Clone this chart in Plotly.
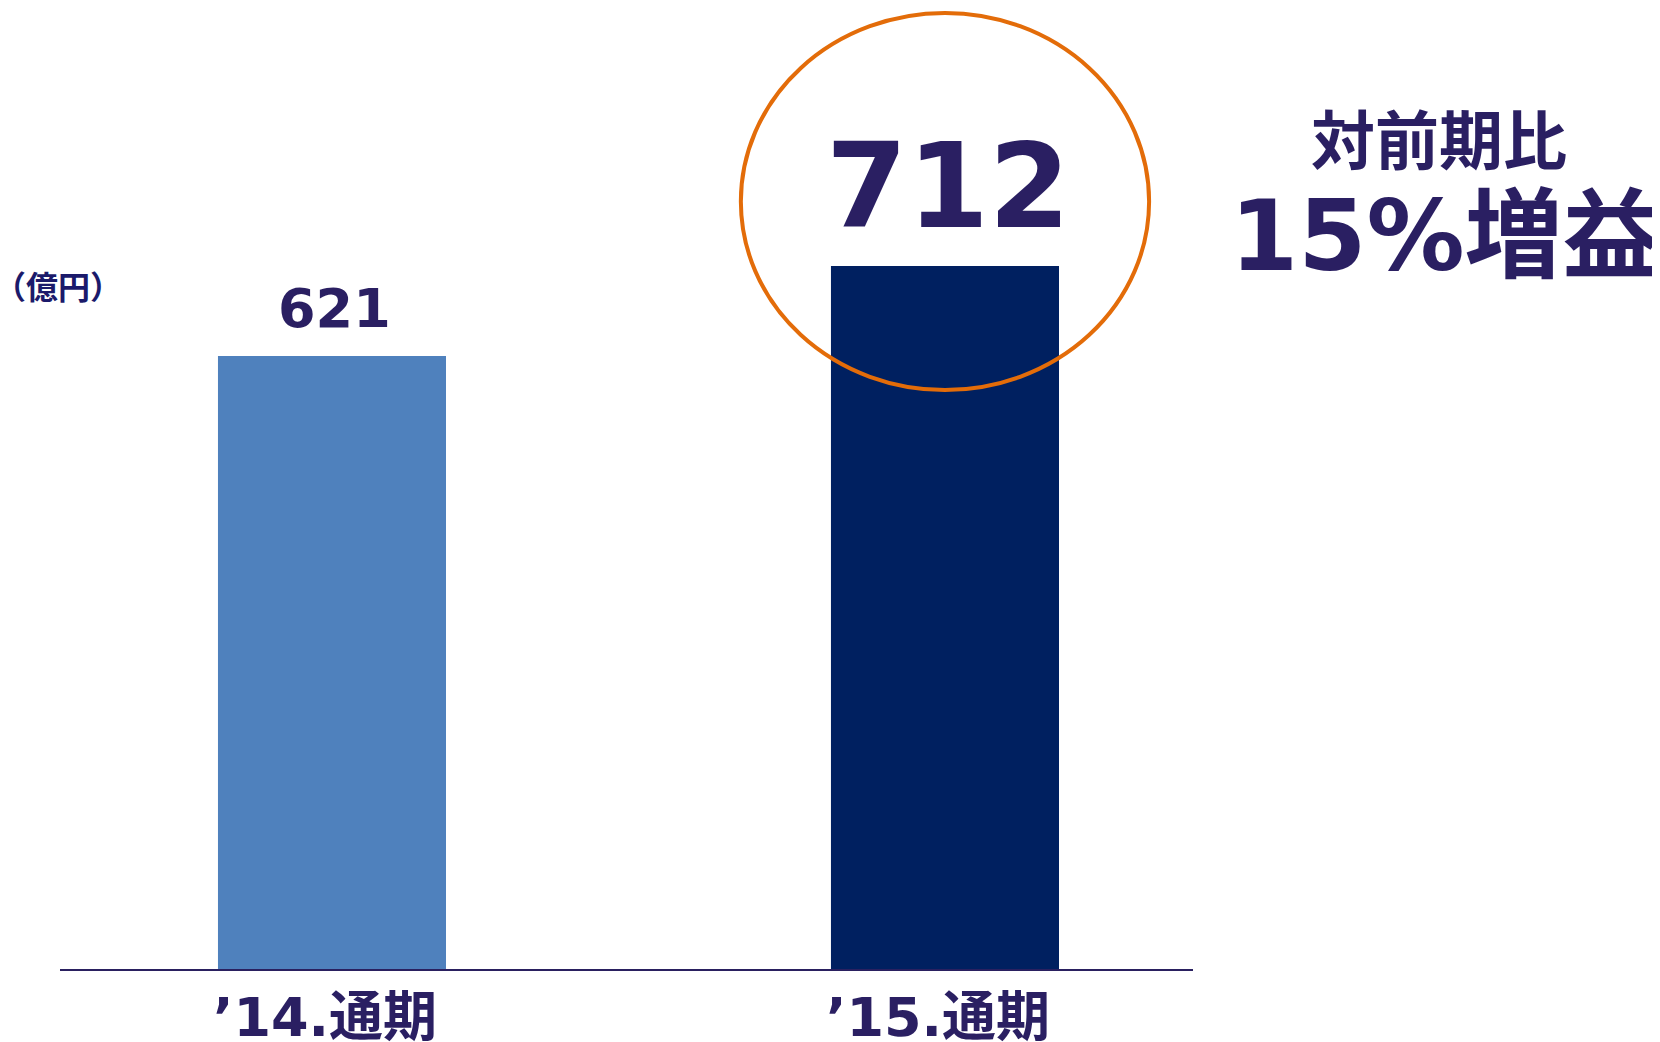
import plotly.graph_objects as go

categories = ["’14.通期", "’15.通期"]
values = [621, 712]
bar_colors = ["#4F81BD", "#002060"]
value_labels = ["621", "712"]
label_sizes = [54, 117]
label_shifts = [14, 9]
label_xshifts = [3, 3]

TEXT = "#2A1F62"
FONT = "DejaVu Sans, Noto Sans CJK JP, sans-serif"

# the page body has an 8px margin; figure is laid out to compensate
OFF = 8
FIG_W, FIG_H = 1660 - OFF, 1042 - OFF
L = 60 - OFF
AXIS_Y = 969 - OFF
PLOT_W = 1133
R = FIG_W - L - PLOT_W
B = FIG_H - AXIS_Y
Y_MAX = AXIS_Y / 0.9872

fig = go.Figure()
fig.add_trace(go.Bar(
    x=categories, y=values, marker=dict(color=bar_colors, line=dict(width=0)),
    width=0.372, hoverinfo="skip", showlegend=False,
))

for c, v, t, s, sh, xs in zip(categories, values, value_labels, label_sizes,
                              label_shifts, label_xshifts):
    fig.add_annotation(x=c, y=v, text=f"<b>{t}</b>", showarrow=False,
                       yanchor="bottom", yshift=sh, xshift=xs,
                       font=dict(family=FONT, size=s, color=TEXT))

fig.add_shape(type="circle", xref="x", yref="y",
              x0=0.667, x1=1.333, y0=586.5, y1=968.4,
              line=dict(color="#E36C09", width=4), layer="above")

def px_to_paper(px, py):
    # px, py are page pixel positions
    return (px - OFF - L) / PLOT_W, (AXIS_Y - (py - OFF)) / AXIS_Y

side_texts = [
    ("<b>（億円）</b>", "Noto Sans CJK JP", 32, "#1B1A6B", (58, 285)),
    ("<b>対前期比</b>", "Noto Sans CJK JP", 64, TEXT, (1439, 136)),
    ("<b>15%増益</b>", FONT, 98, TEXT, (1445, 236)),
]
for txt, fam, size, col, (px, py) in side_texts:
    ax, ay = px_to_paper(px, py)
    fig.add_annotation(xref="paper", yref="paper", x=ax, y=ay, text=txt,
                       xanchor="center", yanchor="middle", showarrow=False,
                       font=dict(family=fam, size=size, color=col))

fig.update_layout(
    width=FIG_W, height=FIG_H,
    margin=dict(l=L, r=R, t=0, b=B, autoexpand=False),
    plot_bgcolor="white", paper_bgcolor="white",
    xaxis=dict(type="category", range=[-0.4437, 1.4046], showgrid=False,
               showline=True, linecolor="#2A2060", linewidth=2, automargin=False,
               ticks="", ticklabelshift=-7,
               tickfont=dict(family=FONT, size=54, color=TEXT, weight="bold")),
    yaxis=dict(range=[0, Y_MAX], visible=False, showgrid=False),
)

fig.write_html("out.html")
